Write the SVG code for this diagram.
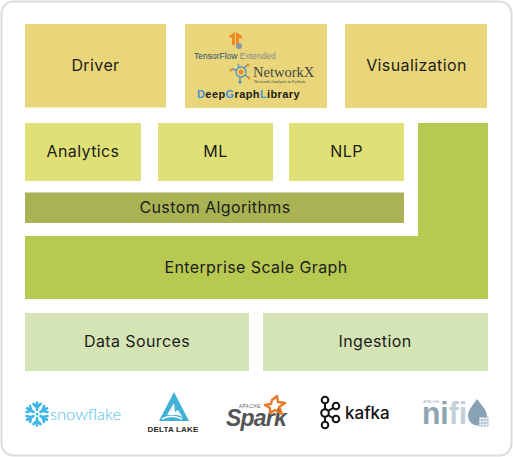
<svg xmlns="http://www.w3.org/2000/svg" width="513" height="457" viewBox="0 0 513 457">
<style>
.l{font-family:Inter,"Noto Sans",sans-serif;font-size:16px;fill:#1c1c1c;text-anchor:middle;letter-spacing:.4px}
.y{fill:#e9d67a}.g{fill:#dfe176}.d{fill:#b7c951}.m{fill:#a9b354}.p{fill:#d5e4b4}
.s{font-family:"Liberation Sans",sans-serif}
</style>
<defs><path id="arm" d="M0-4v-7.500M-3.500-10L0-6.500 3.500-10" fill="none" stroke="#3fb6e6" stroke-width="2.600" stroke-linecap="round"/></defs>
<rect x="1.500" y="1.500" width="510" height="454" rx="12" fill="#fff" stroke="#dcdcdc" stroke-width="2"/>
<g id="driver"><rect class="y" x="25" y="24" width="141" height="83.500"/><text class="l" x="95.500" y="71">Driver</text></g>
<g id="frameworks"><rect class="y" x="185" y="24" width="142" height="84"/>
<path d="M229 36l6-4v13h-3v-7l-3-1zM236 32l6 4v3l-3-1v8h-3z" fill="#f08a24"/><circle cx="239" cy="46" r="3" fill="#8a97a5"/>
<text class="s" x="194" y="58.500" font-size="8.500" fill="#2f4f70">TensorFlow<tspan fill="#888"> Extended</tspan></text>
<g fill="none" stroke="#4f93c0" stroke-width="1.300"><circle cx="241" cy="72" r="5"/><path d="M236 70l-4-1M239 67l-1-3M244 68l3-3M245 75l3 2M240 77l0 4"/></g>
<circle cx="241" cy="72" r="2.500" fill="#ee8a2e"/>
<circle cx="231" cy="70" r="1.500" fill="#ee8a2e"/><circle cx="248" cy="65" r="1.500" fill="#ee8a2e"/><circle cx="249" cy="78" r="1.500" fill="#ee8a2e"/><circle cx="240" cy="82" r="1.500" fill="#4f93c0"/>
<text x="253" y="77" font-family="Liberation Serif,serif" font-size="14.500" fill="#444">NetworkX</text>
<text x="254" y="83" font-family="Liberation Serif,serif" font-size="4.500" fill="#444">Network Analysis in Python</text>
<text class="s" x="197" y="98" font-size="11" font-weight="700" letter-spacing=".4" fill="#1a1a1a"><tspan fill="#4a90d9">D</tspan>eep<tspan fill="#4a90d9">G</tspan>raph<tspan fill="#4a90d9">L</tspan>ibrary</text>
</g>
<g id="visualization"><rect class="y" x="345" y="24" width="142" height="84"/><text class="l" x="416.500" y="71">Visualization</text></g>
<g id="analytics"><rect class="g" x="25" y="123" width="116" height="58"/><text class="l" x="83" y="157">Analytics</text></g>
<g id="ml"><rect class="g" x="158" y="123" width="115" height="58"/><text class="l" x="215.500" y="157">ML</text></g>
<g id="nlp"><rect class="g" x="289" y="123" width="115" height="58"/><text class="l" x="346.500" y="157">NLP</text></g>
<g id="custom-algorithms"><rect class="m" x="25" y="192.500" width="379" height="30.500"/><text class="l" x="215" y="213">Custom Algorithms</text></g>
<g id="enterprise-scale-graph"><path class="d" d="M418 123h70v176H25v-63h393z"/><text class="l" x="256" y="273">Enterprise Scale Graph</text></g>
<g id="data-sources"><rect class="p" x="25" y="313" width="224" height="58"/><text class="l" x="137" y="347">Data Sources</text></g>
<g id="ingestion"><rect class="p" x="263" y="313" width="225" height="58"/><text class="l" x="375" y="347">Ingestion</text></g>
<g id="snowflake"><g transform="translate(37 414)"><use href="#arm" transform="rotate(0)"/><use href="#arm" transform="rotate(60)"/><use href="#arm" transform="rotate(120)"/><use href="#arm" transform="rotate(180)"/><use href="#arm" transform="rotate(240)"/><use href="#arm" transform="rotate(300)"/><circle r="1.500" fill="#3fb6e6"/></g>
<text x="50" y="420" font-family="Lato,sans-serif" font-size="16.500" font-weight="300" fill="#4dbde9">snowflake</text></g>
<g id="delta-lake"><path d="M174 392l15 29h-30z" fill="#3fb0d6"/><path d="M174 403l-7 12h9c3 0 5 1 7 3l-5-8-3 2z" fill="#fff"/><path d="M162 419c7-4 14-3 20 0" stroke="#fff" stroke-width="1.500" fill="none"/>
<text class="s" x="173" y="431.500" font-size="8" font-weight="700" text-anchor="middle" letter-spacing=".2" fill="#2a2a2a">DELTA LAKE</text></g>
<g id="spark"><text class="s" x="226" y="426" font-size="23" font-weight="700" font-style="italic" letter-spacing="-.8" fill="#555">Spark</text>
<text class="s" x="239" y="408" font-size="4.500" letter-spacing=".6" fill="#555">APACHE</text>
<path d="M272 400l5-4 1 6 7 1-6 4 3 7-7-4-5 3 0-5-5-3 6-1z" fill="none" stroke="#e8792b" stroke-width="2.400" stroke-linejoin="round"/></g>
<g id="kafka"><g fill="none" stroke="#111" stroke-width="2"><circle cx="325" cy="400" r="3.300"/><circle cx="325" cy="413" r="3.800"/><circle cx="325" cy="425" r="3.300"/><circle cx="336" cy="406" r="3.300"/><circle cx="336" cy="419" r="3.300"/><path d="M325 403v6M325 417v5M328 411l5-3M328 415l5 3"/></g>
<text x="345" y="418.500" font-family="Inter,sans-serif" font-size="17" font-weight="500" fill="#111">kafka</text></g>
<g id="nifi"><text class="s" x="423" y="403" font-size="4" fill="#aab4bc">APACHE</text>
<text class="s" x="422" y="424" font-size="32" font-weight="700" fill="#8fa5b3" textLength="45" lengthAdjust="spacingAndGlyphs">ni<tspan fill="#c4d0d8">fi</tspan></text>
<path d="M477 399c4 6 10 11 10 17a9.500 9.500 0 0 1-19 0c0-6 5-11 9-17z" fill="#88a2b3"/>
<path d="M479 417h9v9h-9zM482 417v9M485 417v9M479 420h9M479 423h9" fill="#fff" stroke="#88a2b3" stroke-width=".7"/></g>
</svg>
